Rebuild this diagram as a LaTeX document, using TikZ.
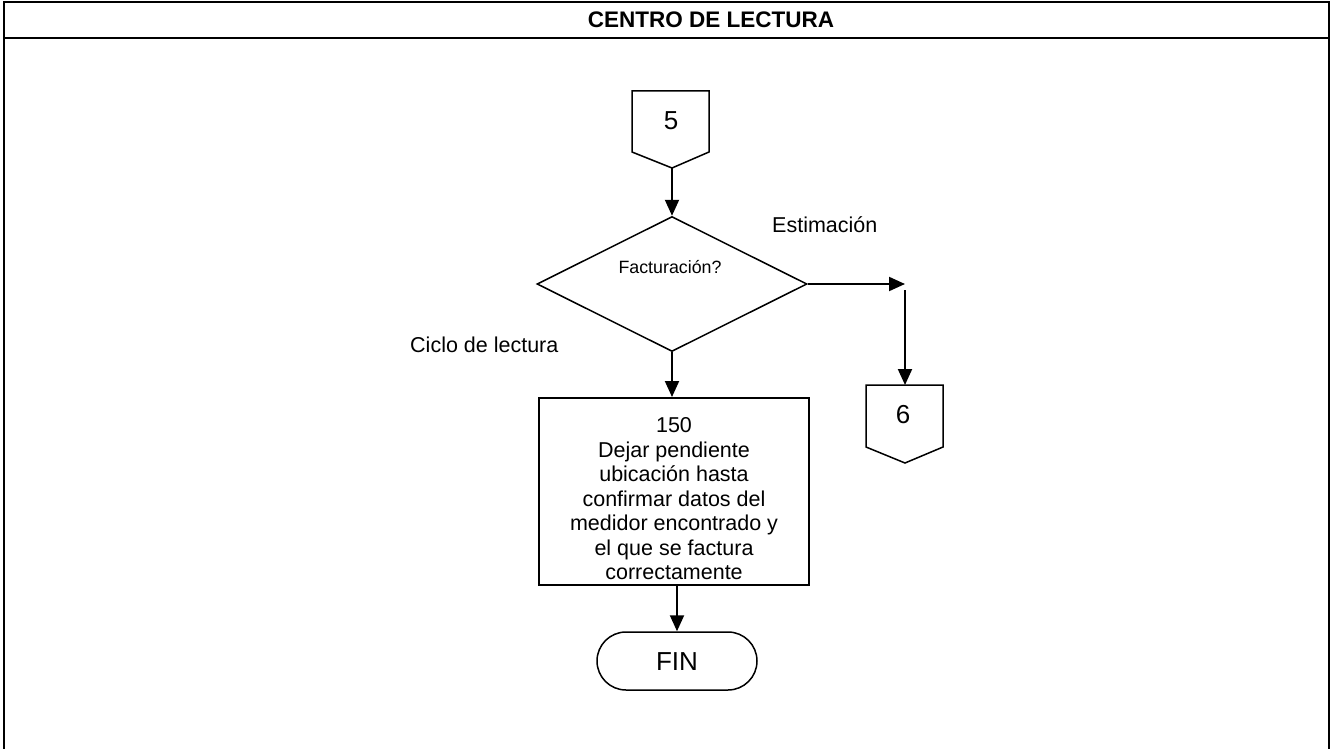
\documentclass[tikz,border=0pt]{standalone}
\usepackage{fontspec}
\setmainfont{Liberation Sans}
\usetikzlibrary{arrows.meta,shapes.geometric,shapes.misc}
\begin{document}
\begin{tikzpicture}[x=1pt,y=-1pt,
  shapeline/.style={draw=black,line width=1.5pt},
  conn/.style={draw=black,line width=2pt,-{Triangle[length=16pt,width=14pt]}},
  lbl/.style={inner sep=0pt,font=\fontsize{21.5}{24.5}\selectfont},
  big/.style={inner sep=0pt,font=\fontsize{26}{30}\selectfont}]
\useasboundingbox (0,0) rectangle (1333,749);
% frame
\draw[line width=2pt] (4,749) -- (4,2) -- (1329,2) -- (1329,749);
\draw[line width=2pt] (4,38.5) -- (1329,38.5);
\node[inner sep=0pt,font=\bfseries\fontsize{22.5}{26}\selectfont] (title) at (711,19.5) {CENTRO DE LECTURA};
% connector 5
\draw[shapeline] (632,91) -- (709,91) -- (709,152) -- (672,168) -- (632,152) -- cycle;
\coordinate (c5tip) at (672,168);
\node[big] (c5) at (671,121) {5};
% decision
\node[shapeline,diamond,minimum width=270pt,minimum height=135pt,inner sep=0pt] (dec) at (672,284) {};
\node[inner sep=0pt,font=\fontsize{17.8}{20}\selectfont] (dectext) at (670,267) {Facturación?};
\node[lbl,anchor=west] (est) at (772,225) {Estimación};
\node[lbl,anchor=west] (ciclo) at (410,345) {Ciclo de lectura};
% connector 6
\draw[shapeline] (866,385) -- (943,385) -- (943,447) -- (905,463) -- (866,447) -- cycle;
\coordinate (c6top) at (905,385);
\node[big] (c6) at (903,415) {6};
\coordinate (turnend) at (dec.east -| c6top);
\coordinate (turnstart) at (905,290);
% process box
\node[draw=black,line width=2pt,minimum width=270pt,minimum height=187pt,inner sep=0pt] (box) at (674,491.5) {};
\node[lbl,align=center] (boxtext) at (674,499) {150\\Dejar pendiente\\ubicación hasta\\confirmar datos del\\medidor encontrado y\\el que se factura\\correctamente};
% terminal
\node[shapeline,rounded rectangle,minimum width=160pt,minimum height=58pt,inner sep=0pt] (fin) at (677,661) {};
\node[big] (fintext) at (677,662) {FIN};
% connectors
\draw[conn] (c5tip) -- (dec.north);
\draw[conn] (dec.east) -- (turnend);
\draw[conn] (turnstart) -- (c6top);
\draw[conn] (dec.south) -- (box.north -| dec.south);
\draw[conn] (box.south -| fin.north) -- (fin.north);
\end{tikzpicture}
\end{document}
